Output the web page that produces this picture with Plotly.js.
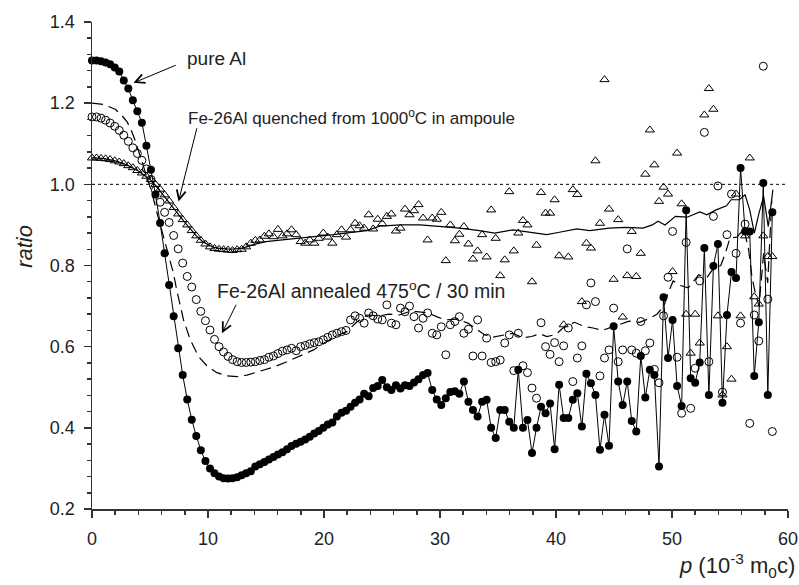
<!DOCTYPE html>
<html>
<head>
<meta charset="utf-8">
<script src="https://cdn.plot.ly/plotly-3.0.1.min.js"></script>
<style>html,body{margin:0;padding:0;background:#fff;}#chart{width:799px;height:585px;}</style>
</head>
<body>
<div id="chart"></div>
<script>
// momentum grid (10^-3 m0c)
const pGrid = [0.00,0.39,0.78,1.17,1.56,1.96,2.35,2.74,3.13,3.52,
3.91,4.30,4.69,5.08,5.47,5.87,6.26,6.65,7.04,7.43,
7.82,8.21,8.60,8.99,9.38,9.78,10.17,10.56,10.95,11.34,
11.73,12.12,12.51,12.90,13.29,13.69,14.08,14.47,14.86,15.25,
15.64,16.03,16.42,16.81,17.20,17.60,17.99,18.38,18.77,19.16,
19.55,19.94,20.33,20.72,21.11,21.51,21.90,22.29,22.68,23.07,
23.46,23.85,24.24,24.63,25.02,25.42,25.81,26.20,26.59,26.98,
27.37,27.76,28.15,28.54,28.93,29.33,29.72,30.11,30.50,30.89,
31.28,31.67,32.06,32.45,32.84,33.24,33.63,34.02,34.41,34.80,
35.19,35.58,35.97,36.36,36.75,37.15,37.54,37.93,38.32,38.71,
39.10,39.49,39.88,40.27,40.66,41.06,41.45,41.84,42.23,42.62,
43.01,43.40,43.79,44.18,44.57,44.97,45.36,45.75,46.14,46.53,
46.92,47.31,47.70,48.09,48.48,48.88,49.27,49.66,50.05,50.44,
50.83,51.22,51.61,52.00,52.39,52.79,53.18,53.57,53.96,54.35,
54.74,55.13,55.52,55.91,56.30,56.70,57.09,57.48,57.87,58.26,
58.65];

// pure Al (filled circles)
const pureAl = [1.305,1.305,1.303,1.300,1.296,1.288,1.278,1.256,1.236,1.207,
1.180,1.152,1.095,1.036,0.975,0.905,0.830,0.752,0.675,0.596,
0.530,0.470,0.420,0.380,0.345,0.318,0.300,0.288,0.280,0.276,
0.275,0.276,0.278,0.283,0.288,0.293,0.305,0.310,0.316,0.322,
0.328,0.334,0.340,0.347,0.355,0.361,0.366,0.371,0.378,0.386,
0.392,0.400,0.408,0.413,0.428,0.437,0.442,0.452,0.462,0.470,
0.484,0.478,0.498,0.503,0.518,0.500,0.493,0.505,0.497,0.505,
0.503,0.512,0.520,0.530,0.535,0.493,0.470,0.456,0.473,0.488,
0.490,0.484,0.514,0.464,0.444,0.428,0.464,0.469,0.400,0.375,
0.444,0.444,0.415,0.400,0.543,0.400,0.419,0.338,0.400,0.452,
0.436,0.460,0.347,0.506,0.424,0.424,0.469,0.485,0.403,0.533,
0.510,0.481,0.346,0.432,0.356,0.650,0.514,0.456,0.514,0.417,
0.391,0.577,0.475,0.543,0.530,0.305,0.722,0.572,0.666,0.503,
0.454,0.936,0.522,0.511,0.561,0.843,0.481,0.799,0.853,0.462,
0.678,0.784,0.769,1.040,0.884,0.884,0.528,0.660,1.003,0.481,
0.931];

// Fe-26Al annealed 475C / 30 min (open circles)
const annealed = [1.166,1.166,1.163,1.158,1.151,1.143,1.133,1.121,1.106,1.090,
1.076,1.059,1.038,1.012,0.985,0.956,0.931,0.906,0.874,0.841,
0.806,0.773,0.747,0.716,0.687,0.664,0.641,0.618,0.600,0.587,
0.576,0.568,0.563,0.561,0.561,0.562,0.563,0.566,0.568,0.574,
0.577,0.583,0.589,0.592,0.596,0.590,0.600,0.603,0.607,0.610,
0.612,0.617,0.623,0.629,0.633,0.637,0.640,0.666,0.676,0.670,
0.658,0.683,0.676,0.668,0.666,0.703,0.658,0.654,0.695,0.686,
0.700,0.674,0.646,0.670,0.683,0.633,0.629,0.649,0.580,0.654,
0.662,0.674,0.633,0.643,0.577,0.666,0.577,0.621,0.561,0.563,
0.567,0.609,0.629,0.541,0.633,0.553,0.536,0.498,0.473,0.659,
0.600,0.581,0.610,0.563,0.602,0.646,0.514,0.572,0.602,0.703,
0.757,0.711,0.528,0.572,0.592,0.695,0.563,0.592,0.841,0.592,
0.584,0.662,0.590,0.609,0.544,0.511,0.676,0.771,0.884,0.574,
0.436,0.857,0.448,0.547,0.762,1.128,0.563,0.921,0.996,0.488,
0.876,0.976,0.830,0.658,0.902,0.411,0.678,0.614,1.291,0.717,
0.391];

// Fe-26Al quenched from 1000C (open triangles)
const quenched = [1.065,1.065,1.064,1.063,1.061,1.058,1.055,1.051,1.046,1.041,
1.034,1.028,1.020,1.012,1.000,0.988,0.974,0.959,0.943,0.927,
0.913,0.900,0.886,0.873,0.862,0.853,0.846,0.842,0.840,0.839,
0.838,0.837,0.839,0.840,0.846,0.855,0.862,0.863,0.872,0.878,
0.871,0.889,0.873,0.878,0.888,0.876,0.859,0.855,0.863,0.855,
0.867,0.880,0.870,0.855,0.876,0.888,0.870,0.888,0.904,0.898,
0.892,0.925,0.890,0.914,0.903,0.921,0.927,0.885,0.892,0.939,
0.925,0.935,0.950,0.917,0.863,0.917,0.914,0.931,0.812,0.900,
0.861,0.877,0.896,0.853,0.816,0.836,0.876,0.821,0.937,0.867,
0.775,0.814,0.982,0.836,0.880,0.911,0.900,0.760,0.850,0.980,
0.929,0.929,0.962,0.824,0.654,0.821,0.987,0.975,0.711,0.855,
0.843,1.058,0.904,1.258,0.939,0.766,0.913,0.673,0.775,0.884,
0.773,0.830,1.025,1.134,1.048,0.958,0.993,0.976,0.785,1.077,
0.952,0.680,0.584,0.680,0.609,1.171,1.236,1.185,0.676,0.481,
0.600,0.520,0.976,0.676,0.873,1.065,0.723,0.705,0.873,0.822,
0.822];

// dashed curve (annealed, second set)
const dashX = [0,1,2,2.5,3,3.3,3.7,4.1,4.6,5.17,
5.6,6.17,6.6,7.03,7.3,7.6,7.9,8.47,9.18,9.9,
10.77,11.63,12.5,13.35,14.5,15.6,16.8,17.9,19.1,20.2,
21.1,21.96,22.8,23.7,24.8,25.6,26.5,27.5,29.0,29.7,
30.4,31.5,32.4,33.0,33.8,34.45,35.3,36.3,37.1,37.9,
38.6,39.2,40.0,40.6,41.6,42.4,43.2,44.0,44.8,45.6,
46.3,47.2,48.1,48.7,49.3,49.7,50.1,50.8,51.4,52.3,
53.0,53.5,54.2,54.6,55.0,55.6,56.2,56.6,56.9,57.2,
57.5,57.9,58.25,58.6];
const dashY = [1.200,1.197,1.185,1.172,1.155,1.139,1.110,1.075,1.030,0.979,
0.930,0.871,0.825,0.780,0.740,0.700,0.665,0.617,0.576,0.553,
0.536,0.528,0.526,0.530,0.539,0.549,0.563,0.577,0.592,0.612,
0.627,0.637,0.660,0.678,0.676,0.680,0.678,0.688,0.683,0.674,
0.666,0.668,0.658,0.646,0.630,0.623,0.628,0.633,0.622,0.625,
0.632,0.625,0.630,0.646,0.660,0.650,0.646,0.640,0.648,0.655,
0.663,0.660,0.670,0.680,0.700,0.735,0.762,0.750,0.745,0.777,
0.770,0.790,0.800,0.830,0.868,0.870,0.890,0.840,0.770,0.730,
0.700,0.830,0.757,0.960];

// solid curve (quenched, second set)
const solidX = [0,1,2,3,4,5,5.5,6,6.5,7,
7.5,8,8.5,9,9.5,10,10.5,11,12,13,
14,15,16,17.9,19,20.8,22.2,23.7,24.8,26.6,
28.3,30,31.7,33.4,34.7,36.3,38.3,39.2,40.3,41.8,
42.9,44.6,46.0,47.5,48.3,48.8,49.4,50.3,51.3,52.4,
53.0,53.8,54.7,55.1,55.8,56.3,56.7,57.1,57.5,57.9,
58.3,58.7];
const solidY = [1.065,1.064,1.058,1.048,1.033,1.012,0.997,0.978,0.960,0.942,
0.924,0.906,0.889,0.873,0.860,0.851,0.845,0.842,0.840,0.843,
0.852,0.859,0.862,0.867,0.871,0.876,0.881,0.886,0.897,0.900,
0.900,0.896,0.892,0.886,0.880,0.888,0.880,0.876,0.882,0.890,
0.886,0.892,0.894,0.892,0.900,0.909,0.900,0.921,0.919,0.932,
0.925,0.937,0.947,0.962,0.962,0.974,0.937,0.880,0.929,0.970,
0.896,0.987];

const labels = {
  pure: 'pure Al',
  quench: 'Fe-26Al quenched from 1000<sup>o</sup>C in ampoule',
  anneal: 'Fe-26Al annealed 475<sup>o</sup>C / 30 min',
  xTitle: '<i>p</i> (10<sup>-3</sup> m<sub>0</sub>c)',
  yTitle: '<i>ratio</i>'
};

const traces = [
  {x: dashX, y: dashY, mode: 'lines', line: {color: '#000', width: 1.2, dash: '11px,6px'}, hoverinfo: 'skip', cliponaxis: false},
  {x: solidX, y: solidY, mode: 'lines', line: {color: '#000', width: 1.2}, hoverinfo: 'skip', cliponaxis: false},
  {x: pGrid, y: annealed, mode: 'markers', marker: {symbol: 'circle-open', size: 8, color: '#000', line: {width: 1, color: '#000'}}, cliponaxis: false},
  {x: pGrid, y: quenched, mode: 'markers', marker: {symbol: 'triangle-up-open', size: 8, color: '#000', line: {width: 1, color: '#000'}}, cliponaxis: false},
  {x: pGrid, y: pureAl, mode: 'lines+markers', line: {color: '#000', width: 1}, marker: {symbol: 'circle', size: 8, color: '#000'}, cliponaxis: false}
];

const axisCommon = {
  showline: true, linecolor: '#333', linewidth: 1.5, mirror: false,
  ticks: 'outside', ticklen: 7, tickwidth: 1.5, tickcolor: '#333',
  showgrid: false, zeroline: false,
  tickfont: {family: 'Liberation Sans, Arial, sans-serif', size: 18, color: '#222'}
};

const layout = {
  width: 799, height: 585,
  margin: {l: 92, r: 11, t: 22, b: 76, pad: 0},
  paper_bgcolor: '#fff', plot_bgcolor: '#fff',
  showlegend: false,
  font: {family: 'Liberation Sans, Arial, sans-serif', size: 18, color: '#222'},
  xaxis: Object.assign({}, axisCommon, {
    range: [0, 60], tick0: 0, dtick: 10, ticklabelstandoff: 6,
    minor: {dtick: 2, ticks: 'outside', ticklen: 4, tickwidth: 1.5, tickcolor: '#333', showgrid: false}
  }),
  yaxis: Object.assign({}, axisCommon, {
    range: [0.2, 1.4], tick0: 0.2, dtick: 0.2, tickformat: '.1f', ticklabelstandoff: 5,
    minor: {dtick: 0.04, ticks: 'outside', ticklen: 4, tickwidth: 1.5, tickcolor: '#333', showgrid: false}
  }),
  shapes: [
    {type: 'line', xref: 'x', yref: 'y', x0: 0, x1: 60, y0: 1, y1: 1, layer: 'below',
     line: {color: '#000', width: 1, dash: 'dot'}}
  ],
  annotations: [
    {xref: 'x', yref: 'y', x: 8.0, y: 1.309, xanchor: 'left', yanchor: 'middle', text: labels.pure, showarrow: false, font: {size: 19, color: '#222'}},
    {xref: 'x', yref: 'y', x: 8.12, y: 1.167, xanchor: 'left', yanchor: 'middle', text: labels.quench, showarrow: false, font: {size: 17, color: '#222'}},
    {xref: 'x', yref: 'y', x: 10.58, y: 0.739, xanchor: 'left', yanchor: 'middle', text: labels.anneal, showarrow: false, font: {size: 19.5, color: '#222'}},
    {xref: 'x', yref: 'y', axref: 'x', ayref: 'y', x: 3.58, y: 1.25, ax: 7.35, ay: 1.295, text: '', showarrow: true, arrowhead: 5, arrowsize: 1.8, arrowwidth: 1, arrowcolor: '#000'},
    {xref: 'x', yref: 'y', axref: 'x', ayref: 'y', x: 7.46, y: 0.958, ax: 9.07, ay: 1.142, text: '', showarrow: true, arrowhead: 5, arrowsize: 1.8, arrowwidth: 1, arrowcolor: '#000'},
    {xref: 'x', yref: 'y', axref: 'x', ayref: 'y', x: 11.2, y: 0.633, ax: 12.49, ay: 0.707, text: '', showarrow: true, arrowhead: 5, arrowsize: 1.8, arrowwidth: 1, arrowcolor: '#000'},
    {xref: 'paper', yref: 'paper', x: 1.013, y: -0.152, xanchor: 'right', yanchor: 'bottom', text: labels.xTitle, showarrow: false, font: {size: 22, color: '#222'}},
    {xref: 'paper', yref: 'paper', x: -0.098, y: 0.54, xanchor: 'center', yanchor: 'middle', textangle: -90, text: labels.yTitle, showarrow: false, font: {size: 22, color: '#222'}}
  ]
};

Plotly.newPlot('chart', traces, layout, {staticPlot: true, displayModeBar: false});
</script>
</body>
</html>
